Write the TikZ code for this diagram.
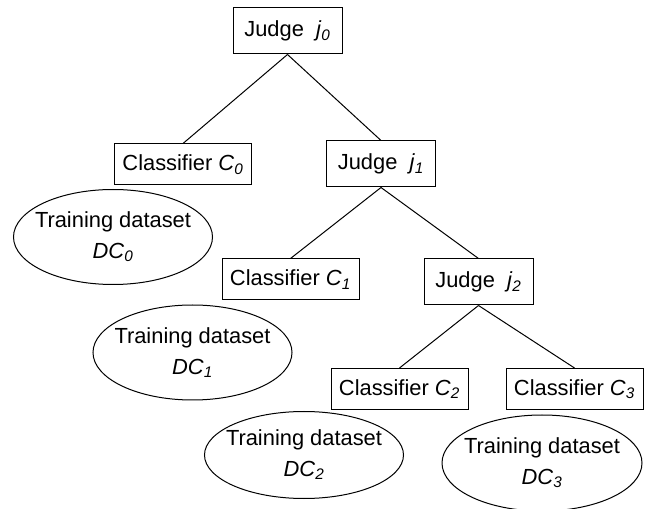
\documentclass[tikz,border=0pt]{standalone}
\usepackage{fontspec}
\setmainfont{Liberation Sans}
\usetikzlibrary{shapes.geometric}

\newcommand{\itsub}[2]{\textit{#1}\textsubscript{\textit{#2}}}

\tikzset{every picture/.style={line width=0.75pt}}
\tikzset{
  judgebox/.style={draw, rectangle, minimum width=81.75pt, minimum height=34.5pt, inner sep=0pt, font=\fontsize{16.4}{19}\selectfont},
  classbox/.style={draw, rectangle, minimum width=102.75pt, minimum height=30.75pt, inner sep=0pt, font=\fontsize{16.4}{19}\selectfont},
  dataset/.style={draw, ellipse, minimum width=149.25pt, minimum height=71.25pt, inner xsep=-8pt, inner ysep=0pt, align=center, font=\fontsize{16.4}{23}\selectfont},
  branch/.style={draw, line width=0.75pt}
}

\begin{document}
\begin{tikzpicture}[x=0.75pt,y=0.75pt,yscale=-1,xscale=1]
\useasboundingbox (0,0) rectangle (646,509);

% Judges
\node [judgebox] (judge0) at (287.5,31) {Judge\ \ \itsub{j}{0}};
\node [judgebox] (judge1) at (381,164) {Judge\ \ \itsub{j}{1}};
\node [judgebox] (judge2) at (478.5,282) {Judge\ \ \itsub{j}{2}};

% Classifiers
\node [classbox] (class0) at (183,164.5) {Classifier \itsub{C}{0}};
\node [classbox] (class1) at (290.5,279.5) {Classifier \itsub{C}{1}};
\node [classbox] (class2) at (399.5,389) {Classifier \itsub{C}{2}};
\node [classbox] (class3) at (574.5,389) {Classifier \itsub{C}{3}};

% Training datasets
\node [dataset] (data0) at (113,237) {Training dataset\\\itsub{DC}{0}};
\node [dataset] (data1) at (192.5,352.5) {Training dataset\\\itsub{DC}{1}};
\node [dataset, minimum height=65.25pt] (data2) at (304,455) {Training dataset\\\itsub{DC}{2}};
\node [dataset, minimum width=150pt, minimum height=72pt] (data3) at (542,463) {Training dataset\\\itsub{DC}{3}};

%Straight Lines
\draw [branch] (judge0.south) -- (class0.north);
\draw [branch] (judge0.south) -- (judge1.north);
\draw [branch] (judge1.south) -- (class1.north);
\draw [branch] (judge1.south) -- (judge2.north);
\draw [branch] (judge2.south) -- (class2.north);
\draw [branch] (judge2.south) -- (class3.north);

\end{tikzpicture}
\end{document}
